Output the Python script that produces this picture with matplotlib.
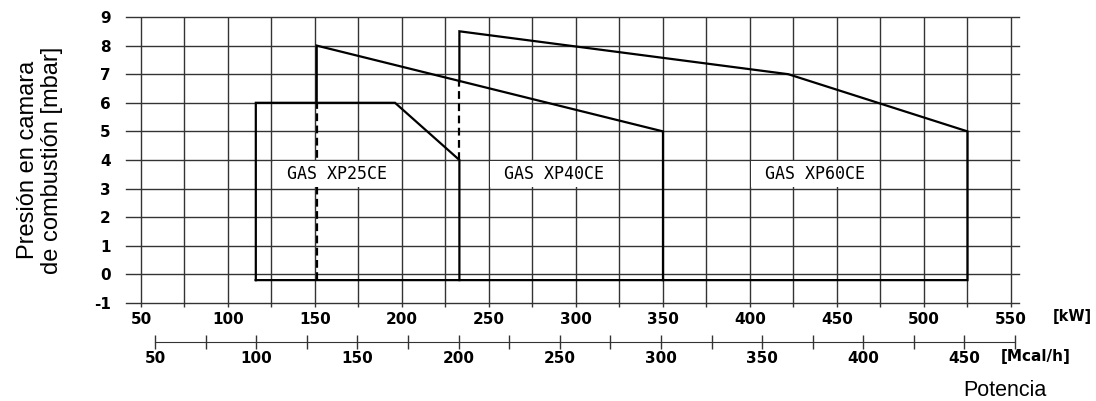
import matplotlib
matplotlib.use("Agg")
import matplotlib.pyplot as plt
from matplotlib.patches import Rectangle

plt.rcParams["axes.unicode_minus"] = False

# --- Data (kW vs mbar) ---
xp25_kw = [116, 116, 196, 233, 233, 116]
xp25_mbar = [-0.2, 6, 6, 4, -0.2, -0.2]

xp40_kw = [151, 151, 350, 350, 233]
xp40_mbar = [6, 8, 5, -0.2, -0.2]

xp60_kw = [233, 233, 422, 525, 525, 350]
xp60_mbar = [6.75, 8.5, 7, 5, -0.2, -0.2]

# dashed separators: (kW, mbar from, mbar to)
dashed_kw = [151, 233]
dashed_from = [-0.2, 4]
dashed_to = [6, 6.75]

# model labels and the grid cells they sit in
model_names = ["GAS XP25CE", "GAS XP40CE", "GAS XP60CE"]
box_kw_from = [125, 250, 400]
box_kw_to = [200, 325, 475]
box_mbar_from = [3, 3, 3]
box_mbar_to = [4, 4, 4]

kw_ticks = list(range(50, 551, 25))
kw_labels = list(range(50, 551, 50))
mcal_ticks = list(range(50, 476, 25))
mbar_ticks = list(range(-1, 10))
KW_TO_MCAL = 0.86

GRID = "#333333"

fig = plt.figure(figsize=(10.96, 4.01), dpi=100)
ax = fig.add_axes([126 / 1096, 1 - 303 / 401, (1019 - 126) / 1096, (303 - 17) / 401])
ax.set_xlim(41.4, 554.6)
ax.set_ylim(-1, 9)
for s in ax.spines.values():
    s.set_visible(False)

# grid drawn by hand so the edge lines are not clipped
for y in mbar_ticks:
    ax.axhline(y, color=GRID, lw=1.0, clip_on=False, zorder=1)
ax.vlines(kw_ticks, -1, 9, color=GRID, lw=1.0, zorder=1)

ax.set_xticks(kw_ticks)
ax.set_xticklabels([str(k) if k in kw_labels else "" for k in kw_ticks])
ax.set_yticks(mbar_ticks)
ax.tick_params(axis="x", direction="out", length=3, width=1.0, color=GRID, pad=3.5)
ax.tick_params(axis="y", length=0, pad=11)
for lab in ax.get_xticklabels() + ax.get_yticklabels():
    lab.set_fontfamily("DejaVu Sans")
    lab.set_fontweight("bold")
    lab.set_fontsize(11)

# burner working fields
for xs, ys in [(xp25_kw, xp25_mbar), (xp40_kw, xp40_mbar), (xp60_kw, xp60_mbar)]:
    ax.plot(xs, ys, color="black", lw=1.6, solid_joinstyle="miter", zorder=3)
for x, y0, y1 in zip(dashed_kw, dashed_from, dashed_to):
    ax.plot([x, x], [y0, y1], color="black", lw=1.6, ls=(0, (3.5, 2)), zorder=3)

# labels on white boxes
for name, x0, x1, y0, y1 in zip(model_names, box_kw_from, box_kw_to, box_mbar_from, box_mbar_to):
    ax.add_patch(Rectangle((x0 + 0.8, y0 + 0.04), x1 - x0 - 1.6, y1 - y0 - 0.08,
                           facecolor="white", edgecolor="none", zorder=4))
    ax.text((x0 + x1) / 2, (y0 + y1) / 2, name, ha="center", va="center",
            family="DejaVu Sans Mono", fontsize=12, zorder=5)

# second scale in Mcal/h
sec = ax.secondary_xaxis(-39 / 286, functions=(lambda k: k * KW_TO_MCAL, lambda m: m / KW_TO_MCAL))
sec.set_xticks(mcal_ticks)
sec.set_xticklabels([str(m) if m % 50 == 0 else "" for m in mcal_ticks])
sec.spines["bottom"].set_bounds(50, 475)
sec.spines["bottom"].set_color(GRID)
sec.tick_params(direction="inout", length=9.5, width=1.0, color=GRID, pad=1.5)
for lab in sec.get_xticklabels():
    lab.set_fontfamily("DejaVu Sans")
    lab.set_fontweight("bold")
    lab.set_fontsize(11)

fig.text(1053 / 1096, 1 - 317 / 401, "[kW]", ha="left", va="center",
         family="DejaVu Sans", fontweight="bold", fontsize=10.5)
fig.text(1001 / 1096, 1 - 357 / 401, "[Mcal/h]", ha="left", va="center",
         family="DejaVu Sans", fontweight="bold", fontsize=11)

ax.set_ylabel("Presión en camara\nde combustión [mbar]", family="Liberation Sans",
              fontsize=17, linespacing=1.1)
ax.yaxis.set_label_coords(-63 / 893, 0.5)
fig.text(1005 / 1096, 1 - 396 / 401, "Potencia", ha="center", va="baseline",
         family="Liberation Sans", fontsize=15.5)

fig.savefig("out.png", dpi=100)
